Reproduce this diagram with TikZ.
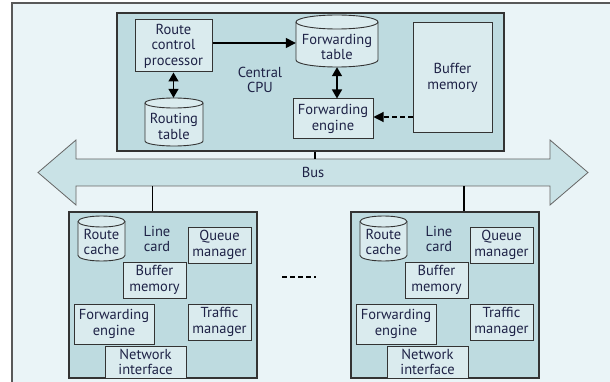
\documentclass[tikz,border=0pt]{standalone}
\usepackage{fontspec}
\setmainfont{PT Sans}
\usetikzlibrary{arrows.meta}

\definecolor{pagebg}{HTML}{EAF4F7}
\definecolor{unitfill}{HTML}{BEDBE0}
\definecolor{partfill}{HTML}{DAEBEE}
\definecolor{busfill}{HTML}{C9E2E6}
\definecolor{ink}{HTML}{1E2246}
\definecolor{edge}{HTML}{333333}

% cylinder outline: left x, top y, width, height, ellipse y radius
\newcommand\drumshape[5]{%
  \pgfmathsetmacro\drx{#3/2}%
  \filldraw[fill=partfill, draw=edge, line width=0.9pt]
    (#1,#2+#5) arc[start angle=180, end angle=0, x radius=\drx pt, y radius=#5pt]
    -- (#1+#3,#2+#4-#5) arc[start angle=0, end angle=-180, x radius=\drx pt, y radius=#5pt]
    -- cycle;
  \draw[draw=edge, line width=0.9pt]
    (#1,#2+#5) arc[start angle=180, end angle=360, x radius=\drx pt, y radius=#5pt];
}

\begin{document}
\begin{tikzpicture}[x=1pt, y=-1pt,
  font=\fontsize{14.5}{15.5}\selectfont,
  unit/.style={draw=edge, line width=1.1pt, fill=unitfill, inner sep=0pt},
  part/.style={draw=edge, line width=1pt, fill=partfill, inner sep=0pt,
               align=center, text=ink},
  caption/.style={align=center, inner sep=0pt, text=ink},
  slot/.style={inner sep=0pt},
  link/.style={line width=1.4pt, draw=black},
  onetip/.style={-{Triangle[length=10pt,width=10pt]}},
  bothtips/.style={{Triangle[length=9pt,width=10pt]}-{Triangle[length=9pt,width=10pt]}},
]
\useasboundingbox (0,0) rectangle (610,382);
\clip (0,0) rectangle (610,382);
\fill[white] (0,0) rectangle (610,382);

% outer frame
\filldraw[fill=pagebg, draw=gray!70!black, line width=1.4pt] (12,3) rectangle (640,420);

% ---------- central unit ----------
\node[unit, minimum width=387, minimum height=138] (cpu) at (310.5,82) {};
\node[part, minimum width=77, minimum height=52] (rcp) at (173.5,46) {Route\\control\\processor};
\drumshape{145}{98}{58}{48}{5}
\node[slot, minimum width=58, minimum height=48] (rt) at (174,122) {};
\node[caption] (rttxt) at (174,126.5) {Routing\\table};
\drumshape{296}{15}{82}{52}{7}
\node[slot, minimum width=82, minimum height=52] (ft) at (337,41) {};
\node[caption] (fttxt) at (337,47) {Forwarding\\table};
\node[part, minimum width=80, minimum height=40] (fe) at (333,119) {Forwarding\\engine};
\node[part, minimum width=79, minimum height=110] (bm) at (452.5,78) {Buffer\\memory};
\node[caption] (cputxt) at (260,80) {Central\\CPU};

\draw[link, onetip] (rcp.east |- 0,43) -- (ft.west |- 0,43);
\draw[link, bothtips] (rcp.south) -- (rcp.south |- rt.north);
\draw[link, bothtips] (ft.south) -- (ft.south |- fe.north);
\draw[link, onetip, dashed, dash pattern=on 5pt off 3pt, line width=1.1pt]
  (bm.west |- 0,117) -- (fe.east |- 0,117);

% ---------- bus ----------
\filldraw[fill=busfill, draw=gray!80!black, line width=0.8pt]
  (38,172.5) -- (76,140) -- (76,159) -- (550,159) -- (550,140) -- (588,172.5)
  -- (550,205) -- (550,186) -- (76,186) -- (76,205) -- cycle;
\node[caption, minimum width=474, minimum height=27] (bus) at (313,172.5) {Bus};

\coordinate (tapcpu) at (315,0);
\coordinate (tapone) at (152.5,0);
\coordinate (taptwo) at (464,0);
\draw[link] (tapcpu |- cpu.south) -- (tapcpu |- bus.north);

% ---------- line cards ----------
\foreach \ox/\id/\tap in {0/one/tapone, 282/two/taptwo} {
  \node[unit, minimum width=188, minimum height=166] (card\id) at (163+\ox,295) {};
  \draw[link] (\tap |- bus.south) -- (\tap |- card\id.north);
  \drumshape{78+\ox}{216}{47}{45}{5.5}
  \node[slot, minimum width=47, minimum height=45] (cache\id) at (101.5+\ox,238.5) {};
  \node[caption] (cachetxt\id) at (101.5+\ox,242) {Route\\cache};
  \node[caption] (cardtxt\id) at (157+\ox,239) {Line\\card};
  \node[part, minimum width=63, minimum height=36] (qm\id) at (219.5+\ox,245) {Queue\\manager};
  \node[part, minimum width=63, minimum height=36] (bmem\id) at (154.5+\ox,280) {Buffer\\memory};
  \node[part, minimum width=80, minimum height=40] (fe\id) at (114+\ox,324) {Forwarding\\engine};
  \node[part, minimum width=63, minimum height=36] (tm\id) at (219.5+\ox,322) {Traffic\\manager};
  \node[part, minimum width=81, minimum height=32] (ni\id) at (145.5+\ox,362) {Network\\interface};
}

% more cards in between
\draw[line width=1.4pt, dash pattern=on 5pt off 3pt] (282,277) -- (316,277);
\end{tikzpicture}
\end{document}
